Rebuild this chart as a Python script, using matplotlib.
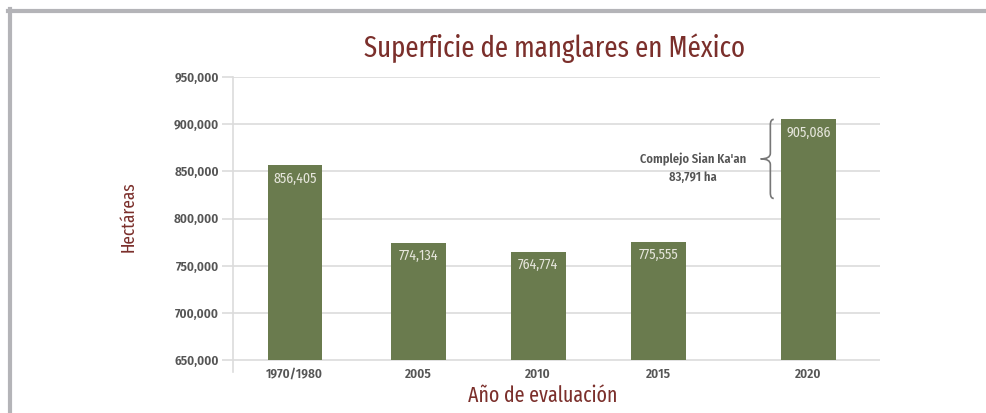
import matplotlib
matplotlib.use("Agg")
import matplotlib.pyplot as plt
from matplotlib.lines import Line2D
from matplotlib.path import Path
from matplotlib.patches import PathPatch
from matplotlib.ticker import FuncFormatter

# data
years = ["1970/1980", "2005", "2010", "2015", "2020"]
hectares = [856405, 774134, 764774, 775555, 905086]
sian_kaan_ha = 83791
yticks = [650000, 700000, 750000, 800000, 850000, 900000, 950000]

# layout / style
xpos = [0, 1.02, 2.01, 3.0, 4.24]
BAR = "#6a7b4e"
BROWN = "#7b2f2b"
GRAY = "#555555"
GRID = "#dcdcdc"
HEAD = ["Fira Sans Extra Condensed", "DejaVu Sans"]
BODY = ["Fira Sans Condensed", "DejaVu Sans"]

plt.rcParams["font.family"] = BODY

fig = plt.figure(figsize=(9.86, 4.13), dpi=100)
ax = fig.add_axes([233 / 986, 1 - 372 / 413, (880 - 233) / 986, (372 - 77) / 413])

ax.bar(xpos, [h - yticks[0] for h in hectares], bottom=yticks[0], width=0.45,
       color=BAR, zorder=3)

for x, h in zip(xpos, hectares):
    ax.text(x, h - 6500, f"{h:,}", ha="center", va="top", color="#e6e6dc",
            fontsize=10, zorder=4)

ax.set_xlim(-0.51, 4.83)
ax.set_ylim(637300, 950000)
ax.set_yticks(yticks)
ax.yaxis.set_major_formatter(FuncFormatter(lambda v, p: f"{int(v):,}"))
ax.set_xticks(xpos)
ax.set_xticklabels(years)

ax.grid(axis="y", color=GRID, linewidth=1.2, zorder=0)
ax.tick_params(axis="y", length=8, width=1.2, color=GRID, labelcolor=GRAY,
               labelsize=9.5, pad=2)
ax.tick_params(axis="x", length=0, labelcolor=GRAY, labelsize=9.5, pad=-3)
for lbl in ax.get_yticklabels() + ax.get_xticklabels():
    lbl.set_fontweight("semibold")

for s in ["top", "right", "bottom"]:
    ax.spines[s].set_visible(False)
ax.spines["left"].set_color(GRID)
ax.spines["left"].set_linewidth(1.2)

ax.set_ylabel("Hectáreas", color=BROWN, fontsize=13.5, family=HEAD,
              ha="center", va="center")
ax.yaxis.set_label_coords(-0.162, 0.525)
ax.set_xlabel("Año de evaluación", color=BROWN, fontsize=15.5, family=HEAD,
              ha="center", va="baseline")
ax.xaxis.set_label_coords(0.478, -0.102)

fig.text(555 / 986, 1 - 57 / 413, "Superficie de manglares en México",
         ha="center", va="baseline", color=BROWN, fontsize=21, family=HEAD)

# curly brace for Sian Ka'an
top = hectares[-1]
bot = hectares[-1] - sian_kaan_ha
mid = (top + bot) / 2
bx = xpos[-1] - 0.225 - 0.09
d = 0.08
h = (top - bot) * 0.07
verts = [(bx + d * 0.35, top), (bx, top), (bx, top - h),
         (bx, mid + h), (bx, mid), (bx - d, mid),
         (bx, mid), (bx, mid - h),
         (bx, bot + h), (bx, bot), (bx + d * 0.35, bot)]
codes = [Path.MOVETO, Path.CURVE3, Path.CURVE3,
         Path.LINETO, Path.CURVE3, Path.CURVE3,
         Path.CURVE3, Path.CURVE3,
         Path.LINETO, Path.CURVE3, Path.CURVE3]
ax.add_patch(PathPatch(Path(verts, codes), fill=False, edgecolor="#777777",
                       linewidth=1.2, zorder=4))
ax.text(bx - 0.64, mid - 10000, "Complejo Sian Ka'an\n83,791 ha", ha="center",
        va="center", color=GRAY, fontsize=9, fontweight="semibold", linespacing=1.45)

# gray frame
fig.add_artist(Line2D([8 / 986, 1], [1 - 11 / 413] * 2, color="#b4b4b8",
                      linewidth=3, transform=fig.transFigure))
fig.add_artist(Line2D([10 / 986] * 2, [0, 1 - 9 / 413], color="#b4b4b8",
                      linewidth=3, transform=fig.transFigure))

fig.savefig("out.png", dpi=100)
